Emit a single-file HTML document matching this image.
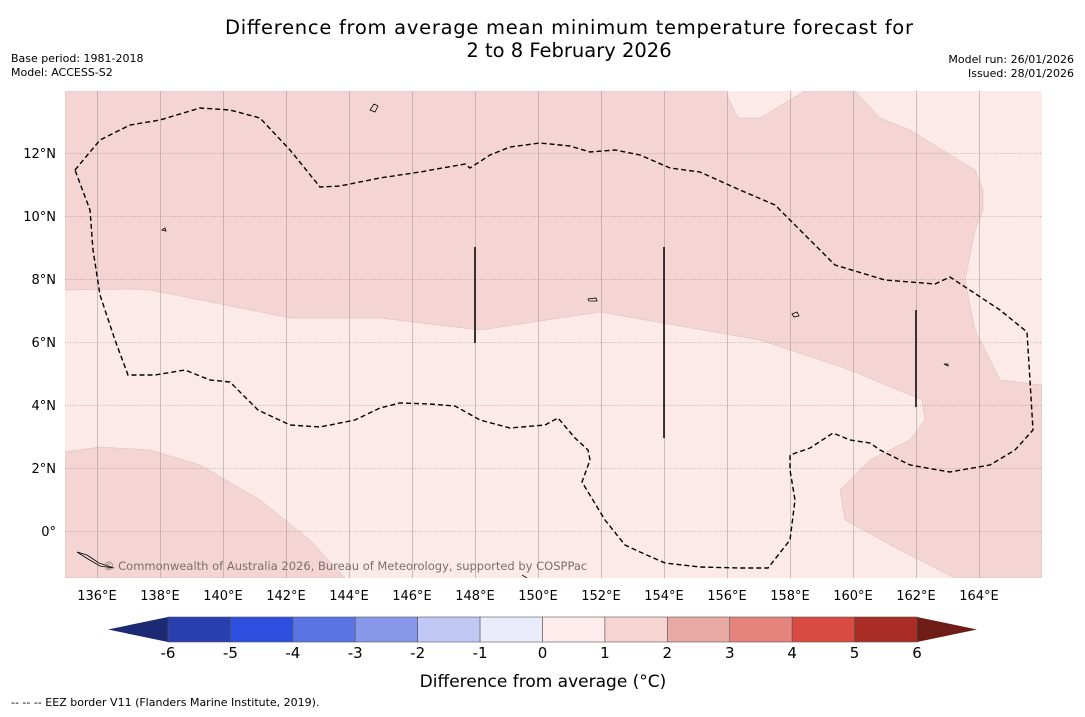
<!DOCTYPE html>
<html><head><meta charset="utf-8"><style>
body{margin:0;background:#fff;width:1085px;height:713px;overflow:hidden;font-family:"DejaVu Sans","Liberation Sans",sans-serif;}
</style></head><body>
<svg id="chart" width="1085" height="713" viewBox="0 0 1085 713" xmlns="http://www.w3.org/2000/svg" font-family="DejaVu Sans, Liberation Sans, sans-serif">
<text x="569" y="34" font-size="19.5" text-anchor="middle" textLength="688">Difference from average mean minimum temperature forecast for</text>
<text x="569" y="57" font-size="19.5" text-anchor="middle">2 to 8 February 2026</text>
<text x="11" y="62" font-size="11">Base period: 1981-2018</text>
<text x="11" y="76" font-size="11">Model: ACCESS-S2</text>
<text x="1074" y="63" font-size="11" text-anchor="end">Model run: 26/01/2026</text>
<text x="1074" y="77" font-size="11" text-anchor="end">Issued: 28/01/2026</text>
<defs><clipPath id="mc"><rect x="65" y="91" width="977" height="487"/></clipPath></defs>
<g clip-path="url(#mc)">
<rect x="65" y="91" width="977" height="487" fill="#fbeae8"/>
<path fill="#f5d5d3" stroke="#c9b5b3" stroke-width="0.4" d="M65,91 L725,91 L738,118 L760,118 L805,91 L855,91 L880,118 L910,130 L975,170 L983,190 L983,210 L975,230 L965,280 L975,330 L1000,380 L1042,385 L1042,578 L955,578 L900,550 L845,520 L840,490 L870,460 L910,440 L925,420 L922,400 L850,370 L760,340 L600,312 L480,330 L380,318 L290,318 L150,290 L130,289 L65,290 Z"/>
<path fill="#f5d5d3" stroke="#c9b5b3" stroke-width="0.4" d="M65,452 L100,447 L150,450 L200,465 L260,500 L310,540 L345,578 L65,578 Z"/>
<g id="grid"></g>
<path fill="none" stroke="#000" stroke-width="1.4" stroke-dasharray="5,3" d="M75,170 L100,140 L130,125 L160,120 L200,108 L230,110 L260,118 L290,150 L320,187 L340,186 L380,178 L420,172 L465,164 L470,168 L490,155 L510,147 L540,143 L570,146 L590,152 L615,150 L640,155 L670,168 L700,172 L740,190 L775,205 L800,230 L835,265 L885,280 L935,284 L950,277 L1000,310 L1027,332 L1033,430 L1015,450 L990,465 L950,472 L910,465 L880,450 L870,443 L850,440 L833,433 L810,448 L790,455 L790,470 L795,500 L790,540 L768,568 L740,568 L700,567 L665,563 L640,552 L625,545 L605,520 L582,482 L590,460 L588,450 L575,438 L558,418 L545,425 L510,428 L480,420 L455,406 L430,404 L400,403 L380,408 L355,420 L320,427 L290,425 L258,410 L230,382 L210,380 L185,370 L155,375 L128,375 L115,340 L100,295 L93,250 L90,210 Z"/>
<line x1="475" y1="247" x2="475" y2="343" stroke="#000" stroke-width="1.5"/>
<line x1="664" y1="247" x2="664" y2="438" stroke="#000" stroke-width="1.5"/>
<line x1="916" y1="310" x2="916" y2="407" stroke="#000" stroke-width="1.5"/>
<path fill="none" stroke="#000" stroke-width="0.8" d="M370,110 l4,-6 l4,2 l-3,6 Z M162,230 l3,-2 l1,3 Z M588,299 l8,-1 l1,3 l-8,0 Z M792,314 l5,-2 l2,4 l-5,1 Z M944,364 l4,0 l0,2 Z M77,552 l10,3 l12,8 l15,5 l-14,-2 l-12,-7 Z M522,575 l5,3"/>
<text x="103" y="570" font-size="11.5" fill="#7a6f6e">© Commonwealth of Australia 2026, Bureau of Meteorology, supported by COSPPac</text>
</g>
<g id="axes"></g>
<g id="cbar"></g>
<text x="543" y="687" font-size="17" text-anchor="middle">Difference from average (°C)</text>
<text x="11" y="706" font-size="11">--  --  -- EEZ border V11 (Flanders Marine Institute, 2019).</text>
</svg>
<script>
const lonTicks=[136,138,140,142,144,146,148,150,152,154,156,158,160,162,164];
const latTicks=[0,2,4,6,8,10,12];
const cbarBounds=[-6,-5,-4,-3,-2,-1,0,1,2,3,4,5,6];
const cbarColors=["#2a3faf","#2f4fe0","#5b74e3","#8798ea","#c0c8f3","#e9ebfb","#fdeceb","#f5d4d1","#eaaaa4","#e4847d","#d94a40","#a92c25"];
const NS="http://www.w3.org/2000/svg";
const xLon=l=>97+(l-136)*31.5;
const yLat=l=>531-l*31.5;
const xC=v=>168+(v+6)*(917-168)/12;
function mk(t,a,p){const e=document.createElementNS(NS,t);for(const k in a)e.setAttribute(k,a[k]);p.appendChild(e);return e;}
const grid=document.getElementById('grid'),axes=document.getElementById('axes'),cb=document.getElementById('cbar');
lonTicks.forEach(l=>{
 const ln=mk('line',{x1:Math.round(xLon(l))+0.5,x2:Math.round(xLon(l))+0.5,y1:91,y2:578,stroke:'#a89c9b','stroke-width':0.6},grid);
 
 
 const t=mk('text',{x:xLon(l),y:600,'font-size':13,'text-anchor':'middle'},axes);t.textContent=l+'°E';
 
 
});
latTicks.forEach(l=>{
 const ln=mk('line',{x1:65,x2:1042,y1:Math.round(yLat(l))+0.5,y2:Math.round(yLat(l))+0.5,stroke:'#8a7f7f','stroke-width':0.6,'stroke-dasharray':'1,1.5'},grid);
 
 
 const t=mk('text',{x:56,y:yLat(l)+5,'font-size':13,'text-anchor':'end'},axes);t.textContent=l===0?'0°':l+'°N';
 
 
});
const lt=mk('polygon',{points:`${xC(-6)},617 ${xC(-6)},642 108,629.5`,fill:'#1b2a73'},cb);


const rt=mk('polygon',{points:`${xC(6)},617 ${xC(6)},642 977,629.5`,fill:'#6e1c16'},cb);


cbarColors.forEach((c,i)=>{
 const r=mk('rect',{x:xC(cbarBounds[i]),y:617,width:xC(cbarBounds[i+1])-xC(cbarBounds[i]),height:25,fill:c,stroke:'#555','stroke-width':0.6},cb);
 
 
});
cbarBounds.forEach(v=>{
 const t=mk('text',{x:xC(v),y:658,'font-size':15,'text-anchor':'middle'},cb);t.textContent=v;
 
 
});
</script>
</body></html>
